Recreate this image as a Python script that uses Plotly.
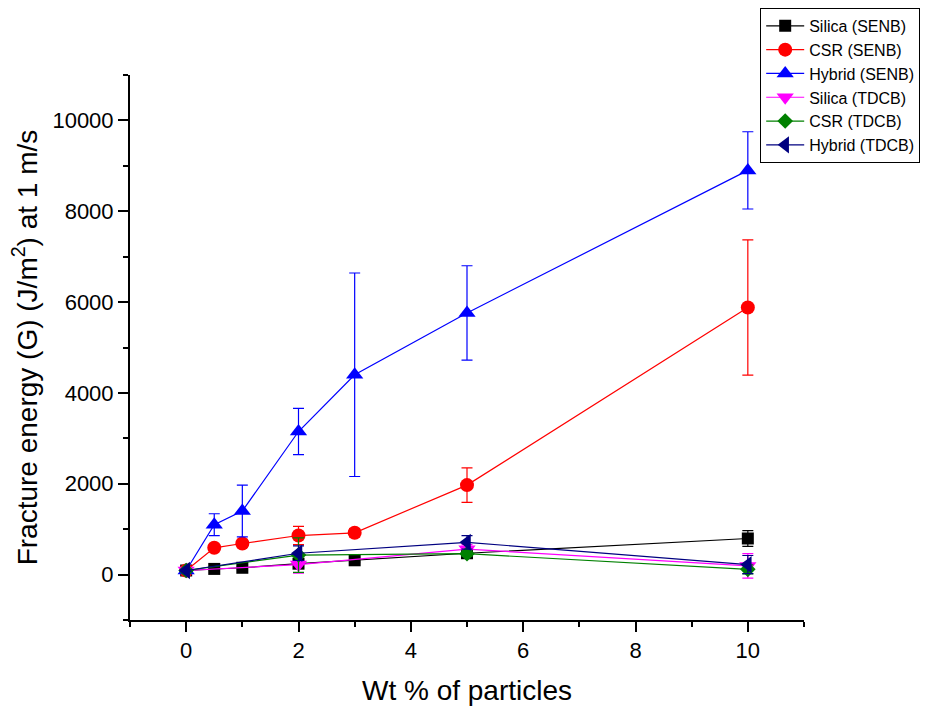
import plotly.graph_objects as go

# Fracture energy G (J/m^2) at 1 m/s versus particle loading (wt %)
x_senb = [0, 0.5, 1, 2, 3, 5, 10]
x_tdcb = [0, 2, 5, 10]

silica_senb = [90, 125, 150, 240, 315, 470, 795]
silica_senb_err = [20, 30, 30, 40, 40, 60, 175]

csr_senb = [90, 590, 685, 860, 920, 1970, 5880]
csr_senb_err = [30, 60, 80, 200, 90, 380, 1490]

hybrid_senb = [90, 1100, 1400, 3150, 4400, 5760, 8900]
hybrid_senb_err = [30, 240, 570, 510, 2240, 1040, 850]

silica_tdcb = [90, 220, 560, 190]
silica_tdcb_err = [20, 190, 100, 270]

csr_tdcb = [90, 430, 460, 115]
csr_tdcb_err = [20, 380, 60, 100]

hybrid_tdcb = [90, 470, 710, 220]
hybrid_tdcb_err = [20, 160, 150, 200]

series = [
    ("Silica (SENB)", x_senb, silica_senb, silica_senb_err, "#000000", "square", 12),
    ("CSR (SENB)", x_senb, csr_senb, csr_senb_err, "#FF0000", "circle", 14),
    ("Hybrid (SENB)", x_senb, hybrid_senb, hybrid_senb_err, "#0000FF", "triangle-up", 15),
    ("Silica (TDCB)", x_tdcb, silica_tdcb, silica_tdcb_err, "#FF00FF", "triangle-down", 15),
    ("CSR (TDCB)", x_tdcb, csr_tdcb, csr_tdcb_err, "#008000", "diamond", 12),
    ("Hybrid (TDCB)", x_tdcb, hybrid_tdcb, hybrid_tdcb_err, "#000080", "triangle-left", 15),
]

FONT = "Liberation Sans, Arial, sans-serif"

fig = go.Figure()
for name, xs, ys, errs, color, symbol, size in series:
    fig.add_trace(go.Scatter(
        x=xs, y=ys, name=name, mode="lines+markers",
        line=dict(color=color, width=1.2),
        marker=dict(symbol=symbol, size=size, color=color, line=dict(width=0)),
        error_y=dict(type="data", array=errs, visible=True,
                     color=color, thickness=1.2, width=5.5),
    ))

fig.update_layout(
    width=926, height=706,
    margin=dict(l=130, r=122, t=75, b=86, autoexpand=False),
    paper_bgcolor="white", plot_bgcolor="white",
    font=dict(family=FONT, color="black"),
    showlegend=True,
    legend=dict(
        x=0.935, y=1.123, xanchor="left", yanchor="top",
        bordercolor="black", borderwidth=1, bgcolor="white",
        font=dict(size=16, family=FONT),
        itemwidth=38, tracegroupgap=0,
    ),
)

fig.update_xaxes(
    range=[-1, 11], tick0=0, dtick=2,
    showline=True, linecolor="black", linewidth=2,
    ticks="outside", ticklen=10, tickwidth=2, tickcolor="black",
    minor=dict(dtick=1, tick0=-1, ticks="outside", ticklen=5, tickwidth=2, tickcolor="black"),
    showgrid=False, zeroline=False,
    tickfont=dict(size=22, family=FONT),
    title=dict(text="Wt % of particles", font=dict(size=28, family=FONT), standoff=18),
)

fig.update_yaxes(
    range=[-1000, 11000], tick0=0, dtick=2000, tickformat="d",
    showline=True, linecolor="black", linewidth=2,
    ticks="outside", ticklen=10, tickwidth=2, tickcolor="black",
    minor=dict(dtick=1000, tick0=-1000, ticks="outside", ticklen=5, tickwidth=2, tickcolor="black"),
    showgrid=False, zeroline=False,
    tickfont=dict(size=22, family=FONT),
    title=dict(text="Fracture energy (G) (J/m<sup>2</sup>) at 1 m/s",
               font=dict(size=28, family=FONT), standoff=7),
)

fig.write_html("out.html")
